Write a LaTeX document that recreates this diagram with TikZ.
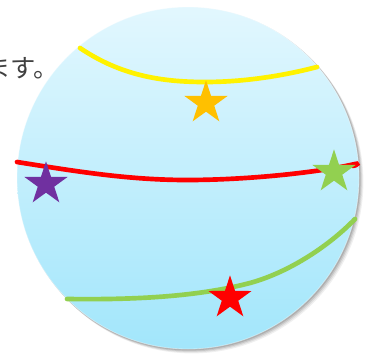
\documentclass[tikz,border=0pt]{standalone}
\usepackage{fontspec}
\newfontfamily\jpfont{Noto Sans CJK JP}
\usetikzlibrary{shapes.geometric}
\definecolor{skytop}{RGB}{226,247,254}
\definecolor{skybot}{RGB}{162,230,251}
\definecolor{txtgray}{RGB}{64,64,64}
\definecolor{stargold}{RGB}{255,192,0}
\definecolor{starpurple}{RGB}{112,48,160}
\definecolor{stargreen}{RGB}{146,208,80}
\tikzset{
  starshape/.style={star, star points=5, star point ratio=2.618, minimum size=34pt, inner sep=0pt, draw=none, fill=#1},
  garland/.style={line width=3.5pt, draw=#1, line cap=round}
}
\begin{document}
\begin{tikzpicture}[x=0.75pt,y=-0.75pt]
\useasboundingbox (0,0) rectangle (374,353);
\node[font=\jpfont\fontsize{19pt}{22pt}\selectfont, text=txtgray, anchor=base west, inner sep=0pt] (txt) at (-15,78) {ます。};
% shadow
\foreach \o/\a in {4/0.06,3/0.08,2/0.10,1/0.12}{
  \fill[black, opacity=\a] (188+\o,178+\o) circle (171*0.75pt+0.3pt);
}
\shade[top color=skytop, bottom color=skybot] (188,178) circle (128.25pt);
\draw[draw=white, opacity=0.4, line width=0.6pt] (188,178) circle (128.25pt);
% garlands
\draw[garland=yellow] (80,48) .. controls (120,75) and (160,82) .. (205,82) .. controls (250,82) and (290,74) .. (317,67);
\draw[garland=red] (17,162) .. controls (80,172) and (130,180) .. (187,180) .. controls (250,180) and (320,172) .. (355,164) .. controls (358,163) and (358,165) .. (353,166);
\draw[garland=stargreen] (67,299) .. controls (140,300) and (200,296) .. (250,283) .. controls (290,272) and (330,245) .. (355,219);
% stars
\node[starshape=starpurple] (s1) at (46,184) {};
\node[starshape=stargold] (s2) at (206,103) {};
\node[starshape=stargreen] (s3) at (334,172) {};
\node[starshape=red] (s4) at (230,298) {};
\end{tikzpicture}
\end{document}
